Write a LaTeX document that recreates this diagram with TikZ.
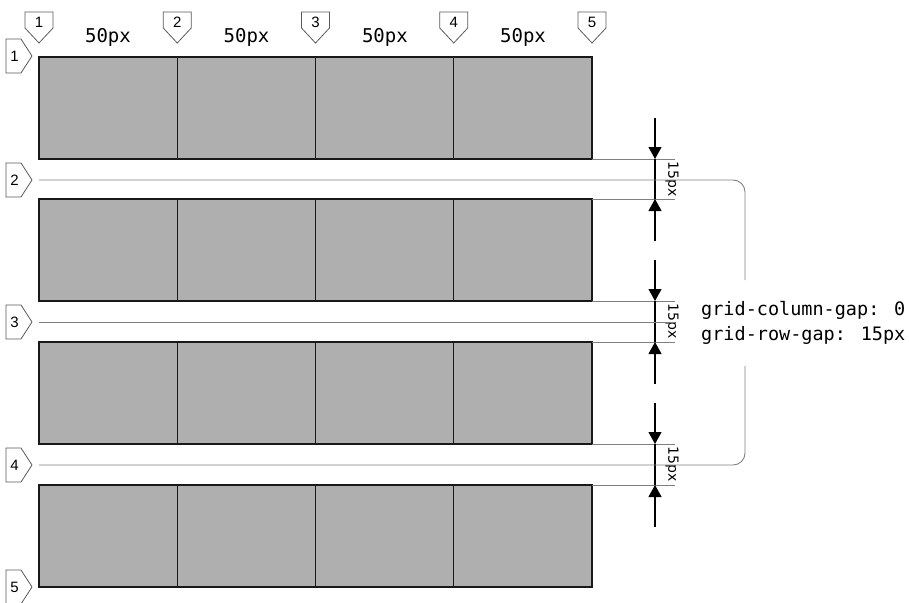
\documentclass[tikz,border=0pt]{standalone}
\usepackage{fontspec}
\setmainfont{DejaVu Sans}
\newfontfamily\monofnt{DejaVu Sans Mono}
\newfontfamily\digfnt{Liberation Sans}
\usetikzlibrary{arrows.meta}
\definecolor{cellgray}{RGB}{175,175,175}
\definecolor{lingray}{RGB}{128,128,128}
\definecolor{mkgray}{RGB}{90,90,90}
\tikzset{
  cell/.style={draw=black!90, line width=1.2pt, fill=cellgray, inner sep=0pt, outer sep=0pt,
    minimum width=138.25pt, minimum height=102pt, anchor=north west},
  gline/.style={draw=lingray, line width=0.9pt},
  mk/.style={draw=mkgray, fill=white, line width=0.8pt, line join=miter},
  mknum/.style={font=\digfnt\fontsize{15}{15}\selectfont, inner sep=0pt},
  toplab/.style={font=\monofnt\fontsize{19}{19}\selectfont, inner sep=0pt, anchor=base},
  codetxt/.style={font=\monofnt\fontsize{18.5}{18.5}\selectfont, inner sep=0pt, anchor=base west},
  gaplab/.style={font=\fontsize{14}{14}\selectfont, inner sep=0pt, rotate=-90},
  dimarrow/.style={draw=black, line width=1.1pt, -{Triangle[width=13pt,length=12pt]}},
  dimline/.style={draw=black, line width=1.1pt}
}
\begin{document}
\begin{tikzpicture}[x=1pt,y=-1pt]
\useasboundingbox (0,0) rectangle (909,602);
% cells
\foreach \r/\ry in {1/57,2/199,3/342,4/485}{
  \foreach \c/\cx in {1/39,2/177.25,3/315.5,4/453.75}{
    \node[cell] (c\r\c) at (\cx,\ry) {};
  }
}
% gap boundary lines
\foreach \g/\ya/\yb/\ym in {1/159/199/180,2/301/342/322,3/444/485/465}{
  \coordinate (ga\g) at (592,\ya);
  \coordinate (gae\g) at (675,\ya);
  \coordinate (gb\g) at (592,\yb);
  \coordinate (gbe\g) at (675,\yb);
  \draw[gline] (ga\g) -- (gae\g);
  \draw[gline] (gb\g) -- (gbe\g);
  % dimension arrows
  \coordinate (at\g) at (655,\ya-41);
  \coordinate (ah\g) at (655,\ya);
  \coordinate (bh\g) at (655,\yb);
  \coordinate (bt\g) at (655,\yb+42);
  \draw[dimarrow] (at\g) -- (ah\g);
  \draw[dimarrow] (bt\g) -- (bh\g);
  \draw[dimline] (ah\g) -- (bh\g);
  \node[gaplab] (gl\g) at (672,\ym-1) {15px};
}
% middle lines and brace
\coordinate (m2s) at (39,180);
\coordinate (m3s) at (39,322);
\coordinate (m3e) at (675,322);
\coordinate (m4s) at (39,465);
\coordinate (br1) at (745,180);
\coordinate (br2) at (745,280);
\coordinate (br3) at (745,366);
\coordinate (br4) at (745,465);
\draw[gline, rounded corners=12pt] (m2s) -- (br1) -- (br2);
\draw[gline] (m3s) -- (m3e);
\draw[gline, rounded corners=12pt] (br3) -- (br4) -- (m4s);
% text
\node[codetxt] (t1) at (701,315) {grid-column-gap: 0};
\node[codetxt] (t2) at (701,340) {grid-row-gap: 15px};
% column labels
\foreach \i/\x in {1/108,2/246.5,3/384.9,4/523}{
  \node[toplab] (w\i) at (\x,42) {50px};
}
% column markers
\foreach \n/\c in {1/39,2/177.25,3/315.5,4/453.75,5/592}{
  \draw[mk] (\c-14,12) -- (\c+14,12) -- (\c+14,28) -- (\c,43) -- (\c-14,28) -- cycle;
  \node[mknum] (cm\n) at (\c,22.5) {\n};
}
% row markers
\foreach \n/\r in {1/56,2/180,3/322,4/465,5/587}{
  \draw[mk] (6,\r-17) -- (21,\r-17) -- (32,\r) -- (21,\r+17) -- (6,\r+17) -- cycle;
  \node[mknum] (rm\n) at (14.5,\r+0.5) {\n};
}
\end{tikzpicture}
\end{document}
